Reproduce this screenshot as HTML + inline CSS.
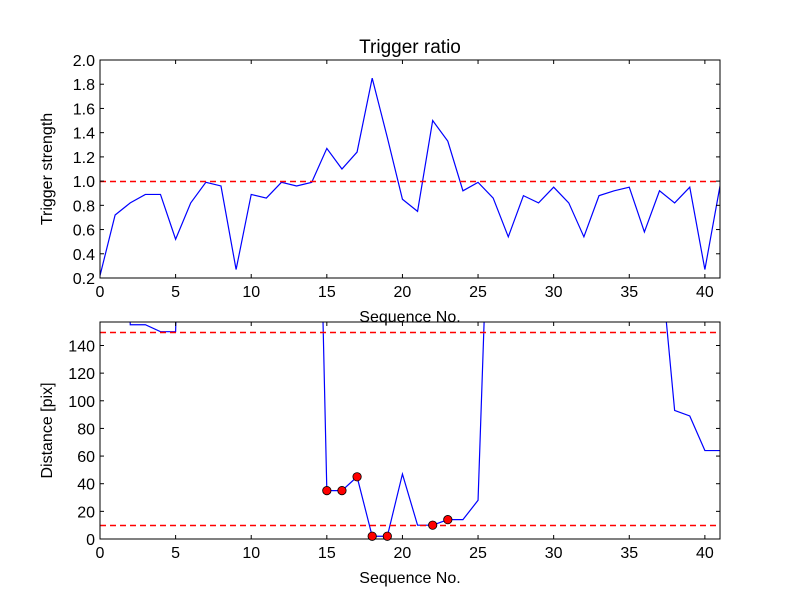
<!DOCTYPE html>
<html><head><meta charset="utf-8"><style>body{margin:0;background:#fff}svg{font-family:"Liberation Sans",sans-serif}</style></head>
<body>
<svg id="c" width="800" height="600" xmlns="http://www.w3.org/2000/svg"></svg>
<script>
const seq = [0,1,2,3,4,5,6,7,8,9,10,11,12,13,14,15,16,17,18,19,20,21,22,23,24,25,26,27,28,29,30,31,32,33,34,35,36,37,38,39,40,41];
const strength = [0.22,0.72,0.82,0.89,0.89,0.52,0.82,0.99,0.96,0.27,0.89,0.86,0.99,0.96,0.99,1.27,1.10,1.24,1.85,1.36,0.85,0.75,1.50,1.33,0.92,0.99,0.86,0.54,0.88,0.82,0.95,0.82,0.54,0.88,0.92,0.95,0.58,0.92,0.82,0.95,0.27,0.96];
const distance = [600,600,155,155,150,150,600,600,600,600,600,600,600,600,520,35,35,45,2,2,47,10,10,14,14,28,350,600,600,600,600,600,600,600,600,600,600,210,93,89,64,64];
const markedIdx = [15,16,17,18,19,22,23];
const xTicks = [0,5,10,15,20,25,30,35,40];
const yTicksTop = [0.2,0.4,0.6,0.8,1.0,1.2,1.4,1.6,1.8,2.0];
const yTicksBot = [0,20,40,60,80,100,120,140];
const thrTop = [1.0];
const thrBot = [10,150];
const svg = document.getElementById('c');
const NS = 'http://www.w3.org/2000/svg';
function mk(t, a, p){const e=document.createElementNS(NS,t);for(const k in a)e.setAttribute(k,a[k]);(p||svg).appendChild(e);return e;}
const L=100,R=720;
function xs(v){return L+(v-0)/(41-0)*(R-L);}
function panel(top,bot,ymin,ymax,yTicks,ys,vals,thr,ylabel,name,title,tickFmt){
  const y=v=>bot-(v-ymin)/(ymax-ymin)*(bot-top);
  const g=mk('g',{});
  
  
  const cid='clip-'+name;
  const cp=mk('clipPath',{id:cid},g);mk('rect',{x:L,y:top,width:R-L,height:bot-top},cp);
  const pts=vals.map((v,i)=>xs(seq[i]).toFixed(2)+','+y(v).toFixed(2)).join(' ');
  const pl=mk('polyline',{points:pts,fill:'none',stroke:'#00f','stroke-width':1.2,'clip-path':`url(#${cid})`},g);
  
  thr.forEach(t=>{const Y=Math.round(y(t))+0.5;const l=mk('line',{x1:L,x2:R,y1:Y,y2:Y,stroke:'#f00','stroke-width':1.5,'stroke-dasharray':'6,4','clip-path':`url(#${cid})`},g);
    });
  mk('rect',{x:L,y:top,width:R-L,height:bot-top,fill:'none',stroke:'#000','stroke-width':1},g);
  xTicks.forEach(t=>{const X=xs(t);
    mk('line',{x1:X,x2:X,y1:bot,y2:bot-4,stroke:'#000'},g);mk('line',{x1:X,x2:X,y1:top,y2:top+4,stroke:'#000'},g);
    const tx=mk('text',{x:X,y:bot+19,'text-anchor':'middle','font-size':16},g);tx.textContent=t;
    });
  yTicks.forEach(t=>{const Y=y(t);
    mk('line',{x1:L,x2:L+4,y1:Y,y2:Y,stroke:'#000'},g);mk('line',{x1:R,x2:R-4,y1:Y,y2:Y,stroke:'#000'},g);
    const tx=mk('text',{x:L-5,y:Y+6,'text-anchor':'end','font-size':16},g);tx.textContent=tickFmt(t);
    });
  const xl=mk('text',{x:(L+R)/2,y:bot+44,'text-anchor':'middle','font-size':16},g);xl.textContent='Sequence No.';
  
  const yl=mk('text',{x:0,y:0,'text-anchor':'middle','font-size':16,transform:`translate(${L-48},${(top+bot)/2}) rotate(-90)`},g);yl.textContent=ylabel;
  
  if(title){const tt=mk('text',{x:(L+R)/2,y:top-7,'text-anchor':'middle','font-size':19},g);tt.textContent=title;
    }
  return y;
}
panel(60,278,0.2,2.0,yTicksTop,null,strength,thrTop,'Trigger strength','top-panel','Trigger ratio',t=>t.toFixed(1));
const yb=panel(322,539,0,157,yTicksBot,null,distance,thrBot,'Distance [pix]','bottom-panel',null,t=>String(t));
markedIdx.forEach(i=>{const c=mk('circle',{cx:xs(seq[i]),cy:yb(distance[i]),r:4.2,fill:'#f00',stroke:'#000','stroke-width':0.8});
  
  });
</script>
</body></html>
